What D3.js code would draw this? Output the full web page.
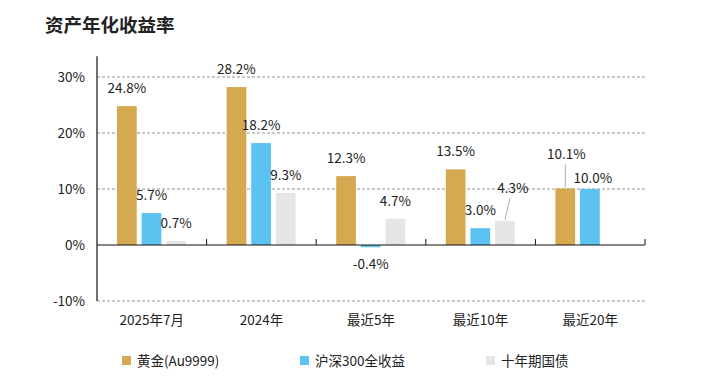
<!DOCTYPE html>
<html>
<head>
<meta charset="utf-8">
<script src="https://cdn.jsdelivr.net/npm/d3@7"></script>
<style>
  html, body { margin: 0; padding: 0; background: #fff; }
  svg { display: block; font-family: "Noto Sans CJK SC", "Noto Sans", sans-serif; }
</style>
</head>
<body>
<svg id="svg" width="727" height="382"></svg>
<script>
var categories = ['2025年7月', '2024年', '最近5年', '最近10年', '最近20年'];
var seriesNames = ['黄金(Au9999)', '沪深300全收益', '十年期国债'];
var goldValues = [24.8, 28.2, 12.3, 13.5, 10.1];
var csiValues = [5.7, 18.2, -0.4, 3.0, 10.0];
var bondValues = [0.7, 9.3, 4.7, 4.3, null];
var yTicks = [-10, 0, 10, 20, 30];

var colors = ['#d4a94f', '#5bc2f2', '#e4e6e7'];
// extra lift for labels that sit on leader lines
var labelLift = { '4-0': 16, '3-2': 15 };

var svg = d3.select('#svg');
var margin = { top: 77, right: 82, bottom: 81, left: 97 };
var width = 727, height = 382;
var innerW = width - margin.left - margin.right;
var innerH = height - margin.top - margin.bottom;

var x = d3.scaleBand().domain(categories).range([margin.left, margin.left + innerW]);
var x1 = d3.scaleBand().domain(d3.range(3)).range([20, 89]).paddingInner(0.2);
var y = d3.scaleLinear().domain([-10, 30]).range([margin.top + innerH, margin.top]);

var allSeries = [goldValues, csiValues, bondValues];

// title
svg.append('text')
  .attr('x', 45).attr('y', 32)
  .attr('font-size', 18.5).attr('font-weight', 'bold').attr('fill', '#222')
  .text('资产年化收益率');

// gridlines
svg.append('g').selectAll('line')
  .data(yTicks.filter(function(d) { return d !== 0; }))
  .enter().append('line')
  .attr('x1', margin.left).attr('x2', margin.left + innerW)
  .attr('y1', function(d) { return y(d); }).attr('y2', function(d) { return y(d); })
  .attr('stroke', '#7a7a7a').attr('stroke-width', 0.8).attr('stroke-dasharray', '3,2');

// y labels
svg.append('g').selectAll('text')
  .data(yTicks).enter().append('text')
  .attr('x', 85).attr('y', function(d) { return y(d); })
  .attr('dy', '0.35em').attr('text-anchor', 'end')
  .attr('font-size', 13.5).attr('fill', '#222')
  .text(function(d) { return d + '%'; });

// bars
allSeries.forEach(function(vals, s) {
  svg.append('g').selectAll('rect')
    .data(vals.map(function(v, i) { return { v: v, i: i }; }).filter(function(d) { return d.v !== null; }))
    .enter().append('rect')
    .attr('x', function(d) { return x(categories[d.i]) + x1(s); })
    .attr('width', x1.bandwidth())
    .attr('y', function(d) { return y(Math.max(0, d.v)); })
    .attr('height', function(d) { return Math.abs(y(d.v) - y(0)); })
    .attr('fill', colors[s]);
});

// value labels
allSeries.forEach(function(vals, s) {
  vals.forEach(function(v, i) {
    if (v === null) return;
    var cx = x(categories[i]) + x1(s) + x1.bandwidth() / 2;
    var lift = labelLift[i + '-' + s] || 0;
    var ly;
    if (v < 0) {
      ly = y(v) + 22;
    } else {
      ly = y(v) - 13 - lift;
    }
    if (i === 4 && s === 1) ly = y(v) - 6;
    if (lift) {
      svg.append('line')
        .attr('x1', cx + (s === 2 ? 5 : 0)).attr('x2', cx)
        .attr('y1', ly + 5).attr('y2', y(v) - 1)
        .attr('stroke', '#999').attr('stroke-width', 0.8);
    }
    svg.append('text')
      .attr('x', cx + (s === 2 && lift ? 8 : 0) + (i === 4 ? (s === 0 ? 1 : 3) : 0))
      .attr('y', ly)
      .attr('text-anchor', 'middle')
      .attr('font-size', 13.5).attr('fill', '#222')
      .text(v.toFixed(1) + '%');
  });
});

// zero line and y axis line
svg.append('line')
  .attr('x1', margin.left).attr('x2', margin.left + innerW)
  .attr('y1', y(0)).attr('y2', y(0))
  .attr('stroke', '#111').attr('stroke-width', 1.2);
svg.append('line')
  .attr('x1', margin.left).attr('x2', margin.left)
  .attr('y1', y(33.7)).attr('y2', y(-10))
  .attr('stroke', '#111').attr('stroke-width', 1.2);

// category boundary ticks
svg.append('g').selectAll('line')
  .data(categories).enter().append('line')
  .attr('x1', function(d) { return x(d) + x.bandwidth(); })
  .attr('x2', function(d) { return x(d) + x.bandwidth(); })
  .attr('y1', y(0)).attr('y2', y(0) - 6)
  .attr('stroke', '#111').attr('stroke-width', 1);

// x labels
svg.append('g').selectAll('text')
  .data(categories).enter().append('text')
  .attr('x', function(d) { return x(d) + x.bandwidth() / 2; })
  .attr('y', 325)
  .attr('text-anchor', 'middle')
  .attr('font-size', 13.5).attr('fill', '#222')
  .text(function(d) { return d; });

// legend
var legendX = [122, 300, 486];
var legend = svg.append('g').selectAll('g')
  .data(seriesNames).enter().append('g')
  .attr('transform', function(d, i) { return 'translate(' + legendX[i] + ',361)'; });
legend.append('rect')
  .attr('x', 0).attr('y', -5).attr('width', 9).attr('height', 9)
  .attr('fill', function(d, i) { return colors[i]; });
legend.append('text')
  .attr('x', 15).attr('y', 0).attr('dy', '0.35em')
  .attr('font-size', 13.5).attr('fill', '#222')
  .text(function(d) { return d; });
</script>
</body>
</html>
